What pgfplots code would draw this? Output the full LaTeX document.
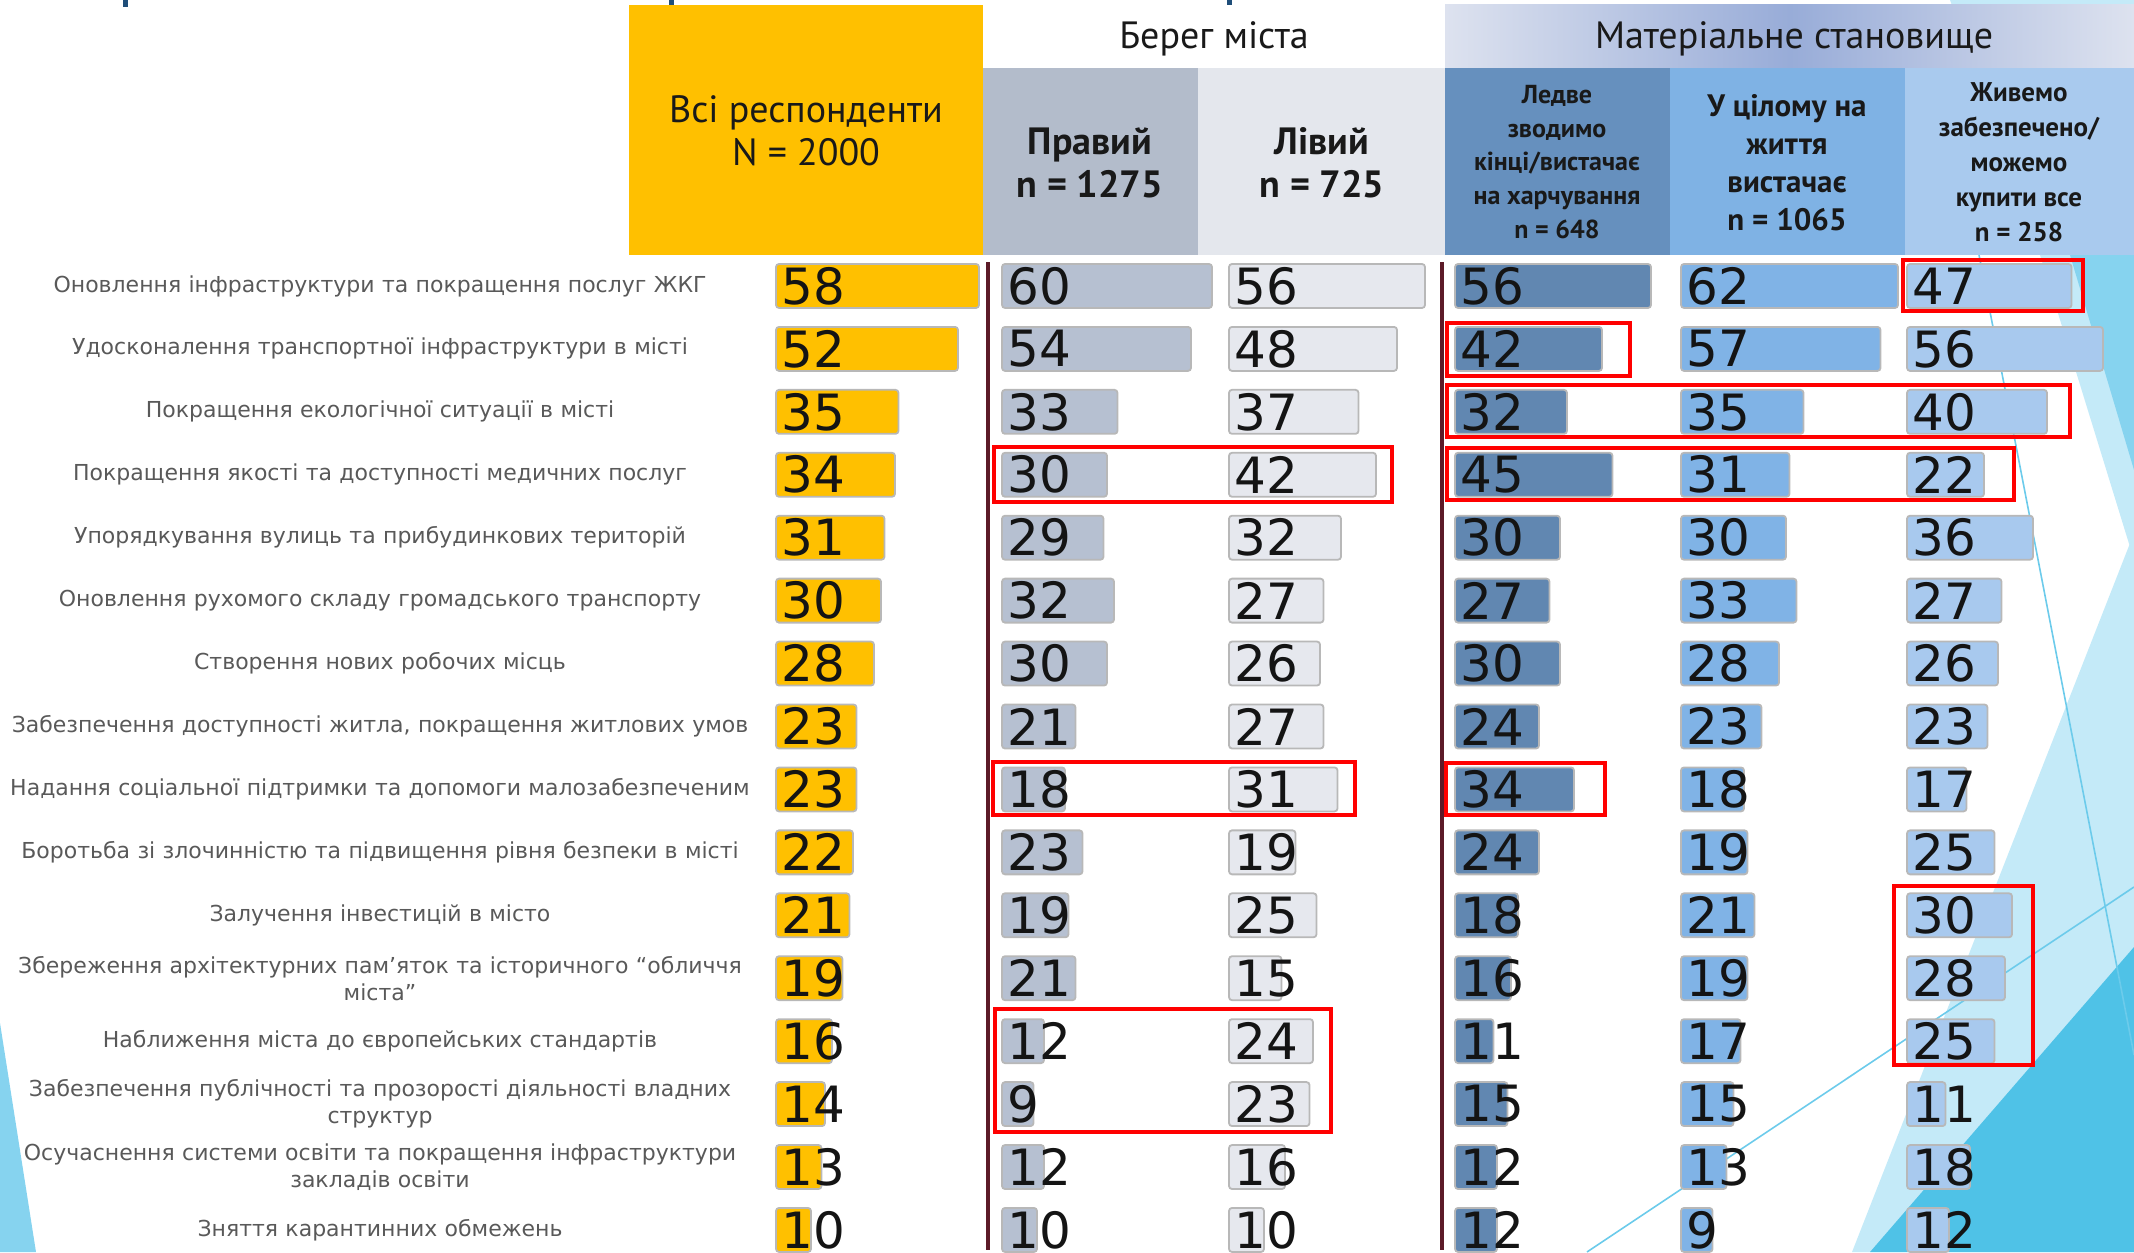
\documentclass[border=0pt]{standalone}
\usepackage{pgfplots}
\pgfplotsset{compat=1.18}
\usepackage{pgfplotstable}
\usepackage{fontspec}
\setmainfont{PT Sans}
\newfontfamily\dejavu{DejaVu Sans}

\definecolor{yel}{HTML}{FFC000}
\definecolor{rgtH}{HTML}{B3BCCB}
\definecolor{rgtB}{HTML}{B6C0D1}
\definecolor{lftH}{HTML}{E4E7ED}
\definecolor{lftB}{HTML}{E6E8EE}
\definecolor{hrdH}{HTML}{6690BE}
\definecolor{hrdB}{HTML}{6187B1}
\definecolor{midH}{HTML}{7FB2E4}
\definecolor{midB}{HTML}{80B3E6}
\definecolor{rchH}{HTML}{A9CAEE}
\definecolor{rchB}{HTML}{A8C9EE}
\definecolor{sepc}{HTML}{5C1A28}
\definecolor{lblue}{HTML}{C4EAF8}
\definecolor{mblue}{HTML}{86D3EF}
\definecolor{dblue}{HTML}{4FC2E7}
\definecolor{lineblue}{HTML}{6CCBEB}
\definecolor{gradL}{HTML}{DDE2EF}
\definecolor{gradM}{HTML}{98ACD8}
\definecolor{titleblue}{HTML}{1F4E79}

\pgfplotstableread{
row all right left hard mid rich
1 58 60 56 56 62 47
2 52 54 48 42 57 56
3 35 33 37 32 35 40
4 34 30 42 45 31 22
5 31 29 32 30 30 36
6 30 32 27 27 33 27
7 28 30 26 30 28 26
8 23 21 27 24 23 23
9 23 18 31 34 18 17
10 22 23 19 24 19 25
11 21 19 25 18 21 30
12 19 21 15 16 19 28
13 16 12 24 11 17 25
14 14 9 23 15 15 11
15 13 12 16 12 13 18
16 10 10 10 12 9 12
}\data

\pgfplotsset{
  col/.style={at={(#1,-127.25pt)}, anchor=north west,
    x=1.75pt, y=31.465pt, xmin=0, xmax=70, ymin=0.5, ymax=16.5,
    y dir=reverse, clip=false,
    axis line style={draw=none}, tick style={draw=none},
    xtick=\empty, ytick=\empty},
  bars/.style={xbar, bar width=22pt, fill=#1, draw=black!28, line width=0.9pt, rounded corners=1.5pt},
  labs/.style={draw=none, nodes near coords, point meta=explicit,
    /pgf/number format/assume math mode=true,
    nodes near coords align=horizontal,
    every node near coord/.append style={anchor=west, inner sep=0pt, xshift=2.5pt,
      font=\dejavu\fontsize{25}{25}\selectfont, text=black!92}},
}

\begin{document}
\begin{tikzpicture}
\path[use as bounding box] (0pt,0pt) rectangle (1067pt,-626pt);
\begin{scope}[x=0.5pt,y=-0.5pt]
  % slide decorations
  \fill[lblue] (1950,0) -- (2134,0) -- (2134,560) -- (2040,255) -- cycle;
  \fill[mblue] (2070,255) -- (2134,255) -- (2134,470) -- cycle;
  \fill[lblue] (2134,533) -- (2134,1252) -- (1852,1252) -- cycle;
  \fill[dblue] (2134,947) -- (2134,1252) -- (1870,1252) -- cycle;
  \draw[lineblue, line width=0.8pt] (1979,255) -- (2134,1055);
  \draw[lineblue, line width=0.8pt] (1587,1252) -- (2134,887);
  \fill[mblue] (0,1023) -- (0,1252) -- (36,1252) -- cycle;
  \fill[titleblue] (123,0) rectangle (128,7);
  \fill[titleblue] (669,0) rectangle (674,7);
  \fill[titleblue] (1227,0) rectangle (1232,5);
  % header boxes
  \fill[yel] (629,5) rectangle (983,255);
  \shade[left color=gradL, right color=gradL, middle color=gradM] (1445,5) rectangle (2134,68);
  \fill[rgtH] (983,68) rectangle (1198,255);
  \fill[lftH] (1198,68) rectangle (1445,255);
  \fill[hrdH] (1445,68) rectangle (1670,255);
  \fill[midH] (1670,68) rectangle (1905,255);
  \fill[rchH] (1905,68) rectangle (2134,255);
  % header texts
  \node[align=center, inner sep=0pt, text=black!90, font=\fontsize{19}{21.5}\selectfont] at (806,131) {Всі респонденти\\N = 2000};
  \node[inner sep=0pt, text=black!90, font=\fontsize{19}{21.5}\selectfont] at (1214,39) {Берег міста};
  \node[inner sep=0pt, text=black!90, font=\fontsize{19}{21.5}\selectfont] at (1794,39) {Матеріальне становище};
  \node[align=center, inner sep=0pt, text=black!90, font=\bfseries\fontsize{19}{21.5}\selectfont] at (1090,163) {Правий\\n = 1275};
  \node[align=center, inner sep=0pt, text=black!90, font=\bfseries\fontsize{19}{21.5}\selectfont] at (1322,163) {Лівий\\n = 725};
  \node[align=center, inner sep=0pt, text=black!90, font=\bfseries\fontsize{13}{16.8}\selectfont] at (1557,162) {Ледве\\зводимо\\кінці/вистачає\\на харчування\\n = 648};
  \node[align=center, inner sep=0pt, text=black!90, font=\bfseries\fontsize{15.5}{19}\selectfont] at (1787,163) {У цілому на\\життя\\вистачає\\n = 1065};
  \node[align=center, inner sep=0pt, text=black!90, font=\bfseries\fontsize{13.5}{17.5}\selectfont] at (2019,162) {Живемо\\забезпечено/\\можемо\\купити все\\n = 258};
  % separators
  \draw[sepc, line width=1.6pt] (988,262) -- (988,1250);
  \draw[sepc, line width=1.6pt] (1442,262) -- (1442,1250);
\end{scope}

\begin{axis}[col=388pt, ytick={1,...,16},
  yticklabels={
    {Оновлення інфраструктури та покращення послуг ЖКГ},
    {Удосконалення транспортної інфраструктури в місті},
    {Покращення екологічної ситуації в місті},
    {Покращення якості та доступності медичних послуг},
    {Упорядкування вулиць та прибудинкових територій},
    {Оновлення рухомого складу громадського транспорту},
    {Створення нових робочих місць},
    {Забезпечення доступності житла, покращення житлових умов},
    {Надання соціальної підтримки та допомоги малозабезпеченим},
    {Боротьба зі злочинністю та підвищення рівня безпеки в місті},
    {Залучення інвестицій в місто},
    {Збереження архітектурних пам’яток та історичного “обличчя\\міста”},
    {Наближення міста до європейських стандартів},
    {Забезпечення публічності та прозорості діяльності владних\\структур},
    {Осучаснення системи освіти та покращення інфраструктури\\закладів освіти},
    {Зняття карантинних обмежень}},
  yticklabel style={anchor=center, xshift=-198pt, text width=400pt, align=center,
    font=\dejavu\fontsize{11}{13.5}\selectfont, text=black!65}]
  \addplot[bars=yel] table[x=all, y=row] {\data};
  \addplot[labs] table[x expr=0, y=row, meta=all] {\data};
\end{axis}
\begin{axis}[col=501pt]
  \addplot[bars=rgtB] table[x=right, y=row] {\data};
  \addplot[labs] table[x expr=0, y=row, meta=right] {\data};
\end{axis}
\begin{axis}[col=614.5pt]
  \addplot[bars=lftB] table[x=left, y=row] {\data};
  \addplot[labs] table[x expr=0, y=row, meta=left] {\data};
\end{axis}
\begin{axis}[col=727.5pt]
  \addplot[bars=hrdB] table[x=hard, y=row] {\data};
  \addplot[labs] table[x expr=0, y=row, meta=hard] {\data};
\end{axis}
\begin{axis}[col=840.5pt]
  \addplot[bars=midB] table[x=mid, y=row] {\data};
  \addplot[labs] table[x expr=0, y=row, meta=mid] {\data};
\end{axis}
\begin{axis}[col=953.5pt]
  \addplot[bars=rchB] table[x=rich, y=row] {\data};
  \addplot[labs] table[x expr=0, y=row, meta=rich] {\data};
\end{axis}

\begin{scope}[x=0.5pt,y=-0.5pt]
  \draw[red, line width=2.2pt] (1903,260) rectangle (2083,311);
  \draw[red, line width=2.2pt] (1447,323) rectangle (1630,376);
  \draw[red, line width=2.2pt] (1447,385) rectangle (2070,437);
  \draw[red, line width=2.2pt] (1447,448) rectangle (2014,500);
  \draw[red, line width=2.2pt] (994,447) rectangle (1392,502);
  \draw[red, line width=2.2pt] (993,762) rectangle (1355,815);
  \draw[red, line width=2.2pt] (1446,763) rectangle (1605,815);
  \draw[red, line width=2.2pt] (1894,886) rectangle (2033,1065);
  \draw[red, line width=2.2pt] (995,1009) rectangle (1331,1132);
\end{scope}
\end{tikzpicture}
\end{document}
